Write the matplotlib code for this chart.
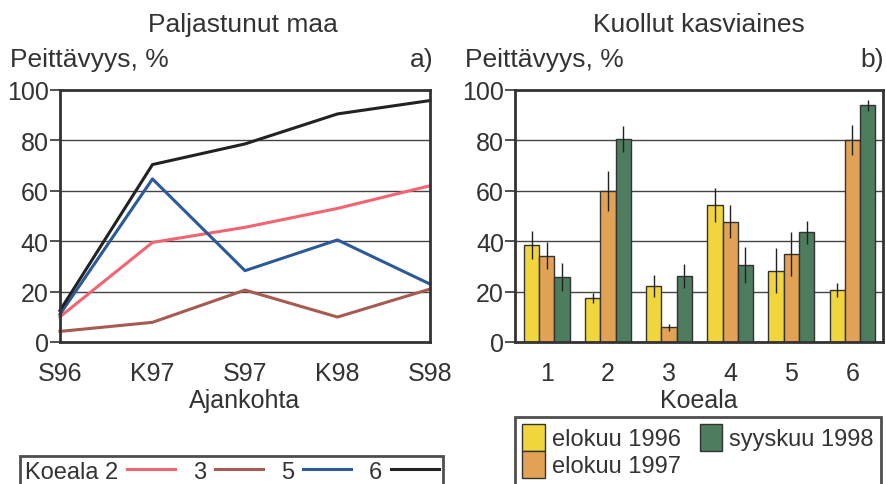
import numpy as np
import matplotlib.pyplot as plt
from matplotlib.patches import Patch
from matplotlib.lines import Line2D

plt.rcParams['font.family'] = ['Liberation Sans', 'DejaVu Sans']

# Left panel: paljastunut maa
periods = ['S96', 'K97', 'S97', 'K98', 'S98']
line_labels = ['Koeala 2', '3', '5', '6']
koeala2 = [10, 39.5, 45.5, 53, 62]
koeala3 = [4.2, 7.8, 20.6, 9.9, 21]
koeala5 = [11, 64.7, 28.3, 40.5, 23]
koeala6 = [12.5, 70.4, 78.6, 90.5, 95.8]
line_colors = ['#f26472', '#a85a50', '#2b5a98', '#222222']

# Right panel: kuollut kasviaines
plots = ['1', '2', '3', '4', '5', '6']
bar_labels = ['elokuu 1996', 'elokuu 1997', 'syyskuu 1998']
elo96 = [38.6, 17.5, 22.1, 54.4, 28.3, 20.6]
elo96_err = [5.5, 2.1, 4.3, 6.6, 9.0, 2.8]
elo97 = [34.3, 60.0, 5.8, 47.7, 34.9, 80.3]
elo97_err = [5.5, 8.0, 1.3, 6.5, 8.6, 6.0]
syys98 = [25.7, 80.6, 26.3, 30.6, 43.5, 94.0]
syys98_err = [5.6, 5.3, 4.7, 7.2, 4.5, 2.2]
bar_colors = ['#f0d63c', '#e2a255', '#4d7d5e']

TXT = '#333333'
fig = plt.figure(figsize=(8.86, 4.85), dpi=100)
ax1 = fig.add_axes([0.0677, 0.2928, 0.4176, 0.5196])
ax2 = fig.add_axes([0.5813, 0.2928, 0.4153, 0.5196])

def style(ax):
    ax.set_ylim(0, 100)
    ax.set_yticks([0, 20, 40, 60, 80, 100])
    ax.grid(axis='y', color='#444444', linewidth=1)
    ax.set_axisbelow(True)
    for s in ax.spines.values():
        s.set_linewidth(2)
        s.set_color(TXT)
    ax.tick_params(axis='y', direction='out', length=7, width=1.2,
                   labelsize=18, colors=TXT, pad=1)
    ax.tick_params(axis='x', length=0, labelsize=18, colors=TXT, pad=14)

# ---- left
x = np.arange(len(periods))
series = [koeala2, koeala3, koeala5, koeala6]
for vals, c in zip(series, line_colors):
    ax1.plot(x, vals, color=c, linewidth=2.2, clip_on=False)
ax1.set_xlim(0, 4)
ax1.set_xticks(x)
ax1.set_xticklabels(periods)
style(ax1)
ax1.set_xlabel('Ajankohta', fontsize=18, color=TXT, labelpad=2)

handles = [Line2D([], [], color=c, linewidth=2.2) for c in line_colors]
leg1 = fig.legend(handles, line_labels, ncol=4, markerfirst=False,
                  loc='upper left', bbox_to_anchor=(0.0225, 0.058, 0.478, 0.0),
                  mode='expand', fontsize=17, frameon=True, fancybox=False,
                  handlelength=2.0, handletextpad=0.4, columnspacing=0.8,
                  borderpad=0.2, borderaxespad=0)
leg1.get_frame().set_edgecolor('#222222')
leg1.get_frame().set_linewidth(2)
for t in leg1.get_texts():
    t.set_color(TXT)

# ---- right
xb = np.arange(1, len(plots) + 1)
w = 0.25
groups = [(elo96, elo96_err), (elo97, elo97_err), (syys98, syys98_err)]
for i, ((vals, errs), c) in enumerate(zip(groups, bar_colors)):
    ax2.bar(xb + (i - 1) * w, vals, w, color=c, edgecolor=TXT, linewidth=1,
            yerr=errs, error_kw=dict(ecolor='#222222', elinewidth=1, capsize=0))
ax2.set_xlim(0.48, 6.5)
ax2.set_xticks(xb)
ax2.set_xticklabels(plots)
style(ax2)
ax2.set_xlabel('Koeala', fontsize=18, color=TXT, labelpad=2)

patches = [Patch(facecolor=c, edgecolor=TXT) for c in bar_colors]
leg2 = fig.legend(patches, bar_labels, ncol=2, loc='upper left',
                  bbox_to_anchor=(0.5813, 0.139), fontsize=17, frameon=True,
                  fancybox=False, handlelength=0.95, handleheight=1.4,
                  handletextpad=0.3, columnspacing=0.8, labelspacing=0.0,
                  borderpad=0.3, borderaxespad=0)
leg2.get_frame().set_edgecolor('#222222')
leg2.get_frame().set_linewidth(2)
for t in leg2.get_texts():
    t.set_color(TXT)

# titles and labels
fig.text(0.274, 0.948, 'Paljastunut maa', fontsize=19, color=TXT, ha='center', va='center')
fig.text(0.789, 0.948, 'Kuollut kasviaines', fontsize=19, color=TXT, ha='center', va='center')
fig.text(0.011, 0.876, 'Peittävyys, %', fontsize=19, color=TXT, va='center')
fig.text(0.525, 0.876, 'Peittävyys, %', fontsize=19, color=TXT, va='center')
fig.text(0.489, 0.876, 'a)', fontsize=19, color=TXT, va='center', ha='right')
fig.text(0.998, 0.876, 'b)', fontsize=19, color=TXT, va='center', ha='right')

fig.savefig('out.png', dpi=100)
